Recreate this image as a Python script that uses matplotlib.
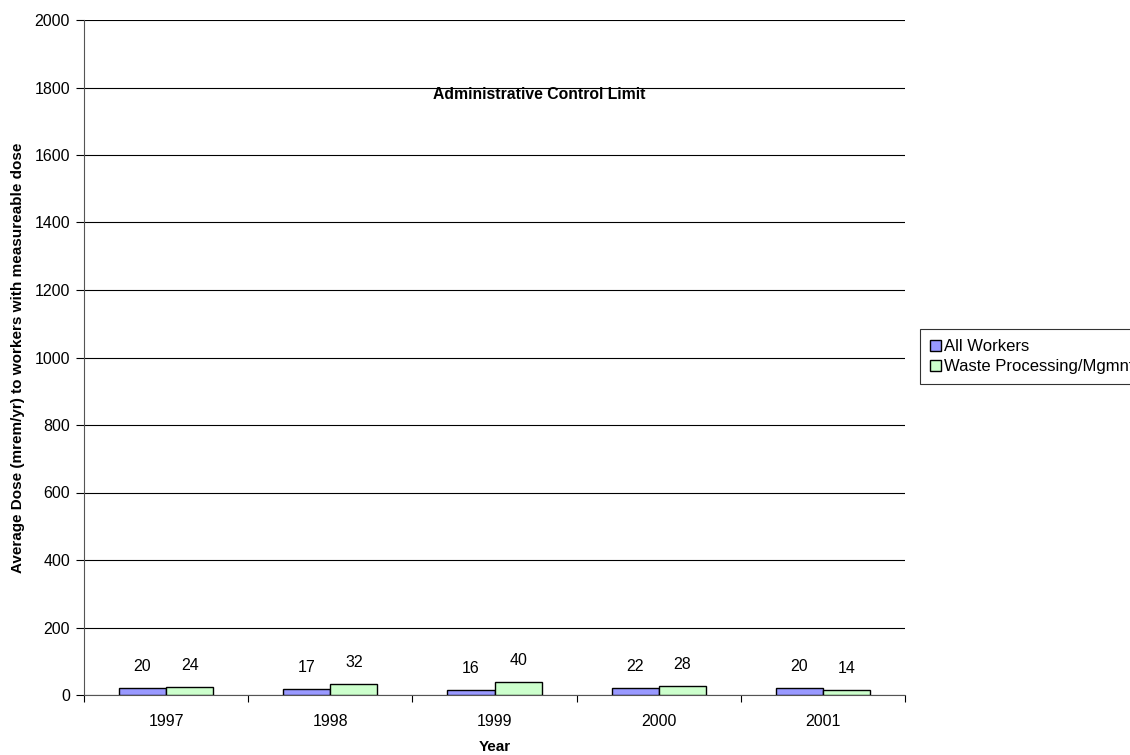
import matplotlib.pyplot as plt
import numpy as np

plt.rcParams['font.family'] = ['Liberation Sans', 'DejaVu Sans']

years = ['1997', '1998', '1999', '2000', '2001']
all_workers = [20, 17, 16, 22, 20]
waste_mgmt = [24, 32, 40, 28, 14]

fig = plt.figure(figsize=(11.3, 7.55), dpi=100)
ax = fig.add_axes([84/1130, 60/755, 821/1130, 675/755])

x = np.arange(len(years))
w = 0.287
b1 = ax.bar(x - w/2, all_workers, w, color='#9999ff', edgecolor='black', linewidth=1, label='All Workers', zorder=3)
b2 = ax.bar(x + w/2, waste_mgmt, w, color='#ccffcc', edgecolor='black', linewidth=1, label='Waste Processing/Mgmnt', zorder=3)

for rects, vals in [(b1, all_workers), (b2, waste_mgmt)]:
    for r, v in zip(rects, vals):
        ax.annotate(str(v), (r.get_x() + r.get_width()/2, v), xytext=(0, 10),
                    textcoords='offset points', ha='center', va='bottom', fontsize=11.5)

ax.set_xlim(-0.5, 4.5)
ax.set_ylim(0, 2000)
ax.set_yticks(range(0, 2001, 200))
ax.set_xticks(np.arange(-0.5, 5, 1), minor=False)
ax.set_xticklabels([])
ax.set_xticks(x, minor=True)
ax.set_xticklabels(years, minor=True)
ax.tick_params(axis='x', which='minor', length=0, pad=14, labelsize=11.5)
ax.tick_params(axis='x', which='major', length=5, direction='out')
ax.tick_params(axis='y', length=6, direction='out', labelsize=11.5, pad=4)
ax.yaxis.grid(True, color='black', linewidth=0.8, zorder=0)
for s in ['top', 'right']:
    ax.spines[s].set_visible(False)
ax.spines['left'].set_color('#555555')
ax.spines['bottom'].set_color('#555555')

ax.set_xlabel('Year', fontsize=11, fontweight='bold', labelpad=7.5)
ax.set_ylabel('Average Dose (mrem/yr) to workers with measureable dose', fontsize=11, fontweight='bold', labelpad=7)

ax.text(0.555, 1778, 'Administrative Control Limit', transform=ax.get_yaxis_transform(),
        ha='center', va='center', fontsize=11.3, fontweight='bold')

leg = fig.legend(loc='upper left', bbox_to_anchor=(920/1130, 1 - 329/755), frameon=True,
                 fancybox=False, edgecolor='black', fontsize=12, handlelength=0.65, handleheight=0.65,
                 handletextpad=0.2, borderpad=0.6, labelspacing=0.3, borderaxespad=0)
leg.get_frame().set_linewidth(0.8)

fig.savefig('out.png', dpi=100)
